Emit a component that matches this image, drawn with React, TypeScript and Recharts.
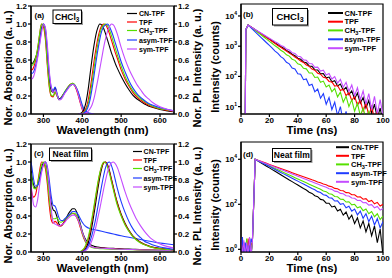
import React from 'react';
import { LineChart, Line, XAxis, YAxis, ReferenceArea, Legend } from 'recharts';

const FONT = '"Liberation Sans", Arial, Helvetica, sans-serif';

const seriesNames = ['CN-TPF', 'TPF', 'CH3-TPF', 'asym-TPF', 'sym-TPF'];
const seriesColors = ['#000000', '#ff0000', '#55e000', '#1f3cff', '#c44cff'];

const wavelengthTicks = [300, 400, 500, 600];
const timeTicks = [0, 20, 40, 60, 80, 100];
const normTicks = [0, 0.2, 0.4, 0.6, 0.8, 1.0, 1.2];
const logTicksB = [10, 100, 1000, 10000];
const logTicksD = [1, 10, 100, 1000, 10000];

// ---------- (a) CHCl3 absorption ----------
const absWlA = [268, 270, 275, 280, 285, 290, 295, 300, 305, 310, 315, 320, 325, 330, 335, 340, 345, 350, 355, 360, 365, 370, 375, 380, 385, 390, 395, 400, 405, 410, 415, 420, 430];
const absA_CN = [0.58, 0.56, 0.58, 0.63, 0.70, 0.82, 0.95, 1.00, 0.92, 0.66, 0.40, 0.26, 0.24, 0.29, 0.22, 0.17, 0.18, 0.21, 0.24, 0.27, 0.30, 0.32, 0.33, 0.32, 0.28, 0.22, 0.14, 0.07, 0.03, 0.012, 0.005, 0.002, 0];
const absA_TPF = [0.50, 0.49, 0.52, 0.60, 0.72, 0.88, 1.00, 0.97, 0.83, 0.54, 0.30, 0.20, 0.19, 0.24, 0.20, 0.16, 0.17, 0.21, 0.24, 0.28, 0.31, 0.33, 0.34, 0.32, 0.27, 0.20, 0.12, 0.05, 0.02, 0.006, 0.002, 0, 0];
const absA_CH3 = [0.55, 0.54, 0.56, 0.62, 0.73, 0.88, 1.00, 0.99, 0.87, 0.57, 0.32, 0.21, 0.20, 0.25, 0.20, 0.16, 0.17, 0.21, 0.25, 0.28, 0.31, 0.33, 0.34, 0.33, 0.29, 0.23, 0.15, 0.08, 0.035, 0.012, 0.004, 0, 0];
const absA_ASYM = [0.47, 0.45, 0.47, 0.54, 0.64, 0.78, 0.93, 1.00, 0.95, 0.72, 0.45, 0.30, 0.26, 0.30, 0.23, 0.16, 0.17, 0.20, 0.24, 0.27, 0.30, 0.32, 0.33, 0.32, 0.29, 0.24, 0.17, 0.10, 0.05, 0.03, 0.015, 0.007, 0];
const absA_SYM = [0.41, 0.39, 0.42, 0.50, 0.62, 0.76, 0.90, 1.00, 0.96, 0.77, 0.48, 0.30, 0.24, 0.27, 0.22, 0.16, 0.16, 0.19, 0.23, 0.26, 0.29, 0.32, 0.33, 0.32, 0.28, 0.21, 0.13, 0.06, 0.025, 0.01, 0.003, 0, 0];

// ---------- PL wavelength grid (a) and (c) ----------
const plWl = [390, 395, 400, 405, 410, 415, 420, 425, 430, 435, 440, 445, 450, 455, 460, 465, 470, 475, 480, 485, 490, 500, 510, 520, 530, 540, 550, 560, 570, 580, 600, 620, 636];
const plA_CN = [0, 0.005, 0.02, 0.06, 0.14, 0.27, 0.44, 0.61, 0.76, 0.88, 0.96, 1.0, 0.99, 0.95, 0.89, 0.82, 0.75, 0.68, 0.62, 0.56, 0.51, 0.42, 0.34, 0.27, 0.21, 0.17, 0.14, 0.11, 0.09, 0.075, 0.05, 0.035, 0.025];
const plA_TPF = [0, 0, 0.01, 0.03, 0.07, 0.15, 0.27, 0.42, 0.58, 0.72, 0.84, 0.93, 0.98, 1.0, 0.99, 0.95, 0.89, 0.82, 0.75, 0.68, 0.62, 0.49, 0.39, 0.31, 0.24, 0.19, 0.155, 0.125, 0.1, 0.08, 0.055, 0.04, 0.03];
const plA_CH3 = [0, 0, 0.008, 0.02, 0.05, 0.11, 0.21, 0.35, 0.5, 0.65, 0.78, 0.89, 0.96, 0.99, 1.0, 0.98, 0.93, 0.87, 0.8, 0.73, 0.66, 0.53, 0.42, 0.33, 0.26, 0.21, 0.17, 0.14, 0.11, 0.09, 0.06, 0.045, 0.033];
const plA_ASYM = [0, 0, 0.005, 0.015, 0.035, 0.08, 0.16, 0.28, 0.42, 0.57, 0.71, 0.83, 0.92, 0.97, 0.99, 1.0, 0.97, 0.92, 0.86, 0.79, 0.72, 0.58, 0.47, 0.37, 0.29, 0.23, 0.185, 0.15, 0.12, 0.1, 0.07, 0.05, 0.035];
const plA_SYM = [0, 0, 0.002, 0.005, 0.012, 0.03, 0.06, 0.1, 0.17, 0.27, 0.38, 0.5, 0.62, 0.74, 0.84, 0.92, 0.97, 1.0, 0.99, 0.95, 0.89, 0.74, 0.61, 0.5, 0.41, 0.33, 0.27, 0.21, 0.17, 0.13, 0.08, 0.05, 0.035];

// ---------- (c) Neat film absorption ----------
const absWlC = [268, 270, 275, 280, 285, 290, 295, 300, 305, 310, 315, 320, 325, 330, 335, 340, 345, 350, 355, 360, 365, 370, 375, 380, 385, 390, 395, 400, 405, 410, 420, 430, 440, 460, 480, 500, 530, 560, 600, 636];
const absC_CN = [0.9, 0.85, 0.74, 0.71, 0.74, 0.82, 0.93, 0.99, 1.0, 0.9, 0.72, 0.55, 0.47, 0.45, 0.39, 0.31, 0.29, 0.31, 0.35, 0.39, 0.43, 0.46, 0.48, 0.48, 0.45, 0.39, 0.31, 0.23, 0.17, 0.13, 0.085, 0.065, 0.055, 0.045, 0.04, 0.035, 0.03, 0.025, 0.02, 0.017];
const absC_TPF = [0.72, 0.66, 0.61, 0.64, 0.76, 0.9, 1.0, 0.99, 0.93, 0.76, 0.52, 0.36, 0.32, 0.34, 0.32, 0.29, 0.29, 0.31, 0.34, 0.37, 0.4, 0.42, 0.43, 0.42, 0.39, 0.34, 0.27, 0.2, 0.14, 0.1, 0.065, 0.05, 0.045, 0.04, 0.035, 0.03, 0.027, 0.023, 0.02, 0.018];
const absC_CH3 = [0.88, 0.82, 0.71, 0.7, 0.76, 0.87, 0.97, 1.0, 0.96, 0.82, 0.6, 0.42, 0.37, 0.37, 0.38, 0.34, 0.33, 0.34, 0.36, 0.38, 0.4, 0.42, 0.43, 0.43, 0.41, 0.36, 0.29, 0.21, 0.15, 0.1, 0.06, 0.045, 0.04, 0.035, 0.03, 0.028, 0.025, 0.02, 0.017, 0.015];
const absC_ASYM = [1.0, 0.95, 0.8, 0.73, 0.74, 0.8, 0.9, 0.97, 1.0, 0.95, 0.8, 0.62, 0.52, 0.51, 0.45, 0.38, 0.35, 0.35, 0.37, 0.39, 0.41, 0.43, 0.45, 0.45, 0.44, 0.41, 0.37, 0.33, 0.3, 0.28, 0.26, 0.25, 0.24, 0.22, 0.2, 0.18, 0.155, 0.13, 0.1, 0.08];
const absC_SYM = [0.78, 0.68, 0.52, 0.5, 0.58, 0.74, 0.88, 0.97, 1.0, 0.93, 0.72, 0.48, 0.33, 0.31, 0.3, 0.29, 0.3, 0.31, 0.33, 0.36, 0.38, 0.4, 0.41, 0.41, 0.39, 0.35, 0.29, 0.22, 0.16, 0.11, 0.07, 0.05, 0.045, 0.04, 0.035, 0.03, 0.027, 0.023, 0.02, 0.018];

// ---------- (c) Neat film PL ----------
const plC_CN = [0, 0, 0.005, 0.02, 0.05, 0.1, 0.18, 0.29, 0.42, 0.56, 0.7, 0.83, 0.93, 0.99, 1.0, 0.97, 0.9, 0.81, 0.72, 0.63, 0.55, 0.42, 0.32, 0.24, 0.18, 0.14, 0.11, 0.085, 0.07, 0.055, 0.04, 0.03, 0.025];
const plC_TPF = [0, 0.003, 0.015, 0.035, 0.075, 0.14, 0.23, 0.35, 0.48, 0.62, 0.75, 0.87, 0.95, 0.99, 1.0, 0.96, 0.89, 0.8, 0.71, 0.62, 0.54, 0.41, 0.31, 0.235, 0.175, 0.135, 0.105, 0.082, 0.066, 0.052, 0.037, 0.029, 0.023];
const plC_CH3 = [0, 0.005, 0.02, 0.045, 0.09, 0.16, 0.26, 0.38, 0.51, 0.64, 0.77, 0.88, 0.96, 1.0, 0.99, 0.94, 0.87, 0.78, 0.69, 0.6, 0.52, 0.4, 0.3, 0.23, 0.17, 0.13, 0.1, 0.08, 0.065, 0.05, 0.035, 0.028, 0.022];
const plC_ASYM = [0, 0, 0.005, 0.015, 0.035, 0.07, 0.12, 0.19, 0.28, 0.38, 0.5, 0.62, 0.74, 0.85, 0.94, 0.99, 1.0, 0.96, 0.89, 0.8, 0.71, 0.56, 0.44, 0.34, 0.26, 0.2, 0.16, 0.12, 0.1, 0.08, 0.055, 0.04, 0.03];
const plC_SYM = [0, 0, 0, 0.008, 0.02, 0.045, 0.08, 0.13, 0.2, 0.28, 0.38, 0.48, 0.59, 0.7, 0.8, 0.89, 0.95, 0.99, 1.0, 0.98, 0.94, 0.81, 0.67, 0.55, 0.45, 0.36, 0.29, 0.23, 0.18, 0.14, 0.09, 0.06, 0.045];

// ---------- (b) CHCl3 decays (counts) ----------
const timeB = [0, 2.9, 3.4, 5, 6, 8, 10, 12, 14, 16, 18, 20, 22, 24, 26, 28, 30, 32, 34, 36, 38, 40, 42, 44, 46, 48, 50, 52, 54, 56, 58, 60, 62, 64, 66, 68, 70, 72, 74, 76, 78, 80, 82, 84, 86, 88, 90, 92, 94, 96, 98, 100];
const decB_CN = [1, 1, 3500, 5000, 4670, 4050, 3510, 3040, 2640, 2290, 1980, 1720, 1490, 1290, 1120, 970, 850, 720, 640, 540, 485, 400, 370, 300, 282, 222, 215, 165, 162, 122, 124, 90, 95, 66, 72, 48, 56, 35, 44, 25, 33, 18, 28, 13, 20, 9, 16, 6, 12, 4, 9, 3];
const decB_TPF = [1, 1, 3500, 5000, 4650, 4000, 3450, 2980, 2580, 2220, 1920, 1660, 1430, 1230, 1060, 920, 790, 690, 590, 515, 440, 385, 325, 290, 240, 215, 175, 160, 128, 118, 93, 88, 68, 66, 48, 50, 34, 38, 23, 29, 16, 22, 11, 17, 7, 13, 5, 10, 4, 7, 3, 5];
const decB_CH3 = [1, 1, 3500, 5000, 4610, 3910, 3310, 2810, 2380, 2010, 1710, 1450, 1230, 1030, 890, 735, 645, 520, 470, 370, 340, 262, 245, 185, 178, 130, 130, 92, 95, 64, 70, 45, 52, 31, 40, 21, 30, 14, 22, 10, 17, 7, 13, 5, 9, 4, 7, 3, 5, 2, 4, 2];
const decB_ASYM = [1, 1, 3500, 5000, 4520, 3670, 2990, 2430, 1970, 1600, 1300, 1060, 870, 690, 580, 450, 388, 292, 260, 190, 175, 122, 118, 78, 82, 50, 55, 31, 38, 19, 27, 12, 20, 8, 14, 5, 10, 3, 7, 2, 5, 1, 3, 1, 1, 1, 1, 1, 1, 1, 1, 1];
const decB_SYM = [1, 1, 3500, 5000, 4690, 4100, 3590, 3140, 2750, 2400, 2100, 1840, 1620, 1400, 1250, 1060, 970, 800, 750, 610, 575, 462, 445, 352, 342, 266, 262, 200, 203, 150, 160, 112, 125, 82, 99, 60, 80, 44, 64, 32, 52, 23, 42, 17, 33, 12, 27, 8, 22, 6, 17, 5];

// ---------- (d) Neat film decays (counts) ----------
const timeD = [0, 1, 2, 3, 4, 5, 6, 7, 8, 9, 10, 12, 14, 16, 18, 20, 22, 24, 26, 28, 30, 32, 34, 36, 38, 40, 42, 44, 46, 48, 50, 52, 54, 56, 58, 60, 62, 64, 66, 68, 70, 72, 74, 76, 78, 80, 82, 84, 86, 88, 90, 92, 94, 96, 98, 100];
const decD_CN = [1, 0.5, 2, 0.5, 1.5, 0.5, 2.5, 0.5, 2, 141, 10000, 8390, 7030, 5900, 4950, 4150, 3480, 2920, 2450, 2050, 1720, 1450, 1210, 1020, 851, 714, 600, 502, 430, 345, 305, 240, 218, 165, 155, 112, 112, 76, 82, 50, 60, 33, 45, 22, 33, 14, 25, 9, 18, 6, 14, 4, 11, 2, 8, 0.5];
const decD_TPF = [0.5, 2.5, 0.5, 1, 0.5, 3, 0.5, 1.5, 2, 141, 10000, 9000, 8110, 7300, 6580, 5920, 5330, 4800, 4320, 3890, 3500, 3150, 2840, 2550, 2300, 2070, 1860, 1680, 1510, 1360, 1220, 1110, 980, 900, 790, 740, 640, 600, 510, 490, 410, 400, 330, 325, 265, 265, 210, 215, 168, 178, 132, 148, 105, 122, 84, 100];
const decD_CH3 = [2, 0.5, 1, 0.5, 3, 0.5, 1, 0.5, 2, 141, 10000, 8750, 7650, 6690, 5850, 5120, 4480, 3920, 3420, 2990, 2620, 2290, 2000, 1750, 1530, 1340, 1170, 1030, 896, 784, 685, 600, 525, 470, 390, 365, 295, 280, 222, 215, 168, 165, 126, 130, 94, 100, 70, 78, 52, 62, 38, 48, 28, 38, 21, 30];
const decD_ASYM = [0.5, 3.5, 0.5, 2, 0.5, 1.5, 0.5, 3, 2, 141, 10000, 8610, 7420, 6390, 5510, 4740, 4090, 3520, 3030, 2610, 2250, 1940, 1670, 1440, 1240, 1070, 919, 791, 682, 587, 506, 445, 365, 335, 268, 250, 195, 188, 140, 142, 100, 108, 70, 82, 50, 62, 34, 50, 24, 38, 17, 30, 12, 23, 9, 17];
const decD_SYM = [3, 0.5, 2.5, 0.5, 2, 0.5, 3.5, 0.5, 2, 141, 10000, 8910, 7940, 7080, 6310, 5620, 5010, 4470, 3980, 3550, 3160, 2820, 2510, 2240, 2000, 1780, 1580, 1410, 1260, 1120, 1000, 891, 794, 708, 631, 570, 490, 460, 385, 365, 305, 292, 240, 232, 190, 186, 148, 150, 118, 120, 92, 97, 70, 80, 55, 65];

type Pt = { x: number; y: number };
const toPoints = (xs: number[], ys: number[]): Pt[] => xs.map((x, i) => ({ x, y: ys[i] }));

const tickStyle = { fill: '#000', fontSize: 8, fontWeight: 700, fontFamily: FONT };
const axisStroke = { stroke: '#000', strokeWidth: 1.2 };

const XTitle = (props: any) => (
  <text x={props.tx} y={props.ty} textAnchor="middle" fontFamily={FONT} fontWeight={700} fontSize={11.5} fill="#000">
    {props.text}
  </text>
);

const YTitle = (props: any) => (
  <text
    x={props.cx}
    y={props.cy}
    transform={`rotate(-90 ${props.cx} ${props.cy})`}
    textAnchor="middle"
    dominantBaseline="central"
    fontFamily={FONT}
    fontWeight={700}
    fontSize={11}
    fill="#000"
  >
    {props.text}
  </text>
);

const LogTick = (props: any) => {
  const { x, y, payload } = props;
  const exp = Math.round(Math.log10(payload.value));
  return (
    <text x={x} y={y + 3} textAnchor="end" fontFamily={FONT} fontWeight={700} fontSize={8} fill="#000">
      10<tspan dy={-4} fontSize={5}>{exp}</tspan>
    </text>
  );
};

const renderName = (n: string) => {
  if (n === 'CH3-TPF') {
    return (
      <>
        CH<tspan dy={2} fontSize="75%">3</tspan><tspan dy={-2}>-TPF</tspan>
      </>
    );
  }
  return n;
};

type LegendCfg = { left: number; top: number; lineLen: number; gap: number; rows: number[]; fontSize: number; sw: number };

const makeLegend = (cfg: LegendCfg) => () => (
  <svg width={60} height={60} style={{ overflow: 'visible', display: 'block' }}>
    {seriesNames.map((n, i) => (
      <g key={n}>
        <line x1={0} x2={cfg.lineLen} y1={cfg.rows[i]} y2={cfg.rows[i]} stroke={seriesColors[i]} strokeWidth={cfg.sw} />
        <text x={cfg.lineLen + cfg.gap} y={cfg.rows[i] + cfg.fontSize * 0.36} fontFamily={FONT} fontWeight={700} fontSize={cfg.fontSize} fill="#000">
          {renderName(n)}
        </text>
      </g>
    ))}
  </svg>
);

const absSetsA = [absA_CN, absA_TPF, absA_CH3, absA_ASYM, absA_SYM];
const plSetsA = [plA_CN, plA_TPF, plA_CH3, plA_ASYM, plA_SYM];
const absSetsC = [absC_CN, absC_TPF, absC_CH3, absC_ASYM, absC_SYM];
const plSetsC = [plC_CN, plC_TPF, plC_CH3, plC_ASYM, plC_SYM];
const decSetsB = [decB_CN, decB_TPF, decB_CH3, decB_ASYM, decB_SYM];
const decSetsD = [decD_CN, decD_TPF, decD_CH3, decD_ASYM, decD_SYM];

const WL_DOMAIN: [number, number] = [268, 636];

function SpectraPanel(props: {
  left: number; top: number; absWl: number[]; absSets: number[][]; plSets: number[][]; legend: LegendCfg;
}) {
  const { left, top, absWl, absSets, plSets, legend } = props;
  return (
    <div style={{ position: 'absolute', left, top }}>
      <LineChart width={206} height={138} margin={{ top: 6, right: 0, bottom: 0, left: 0 }}>
        <XAxis
          dataKey="x" type="number" domain={WL_DOMAIN} ticks={wavelengthTicks} allowDataOverflow height={24}
          tick={tickStyle} tickSize={3} tickMargin={0} axisLine={axisStroke} tickLine={axisStroke}
          label={<XTitle tx={102.5} ty={134} text="Wavelength (nm)" />}
        />
        <YAxis
          yAxisId="abs" type="number" domain={[0, 1.2]} ticks={normTicks} width={31} allowDataOverflow
          tick={tickStyle} tickSize={3} tickMargin={1} axisLine={axisStroke} tickLine={axisStroke}
          tickFormatter={(v: number) => v.toFixed(1)}
          label={<YTitle cx={8} cy={68} text="Nor. Absorption (a. u.)" />}
        />
        <YAxis
          yAxisId="pl" orientation="right" type="number" domain={[0, 1.2]} ticks={normTicks} width={32} allowDataOverflow
          tick={tickStyle} tickSize={3} tickMargin={1} axisLine={axisStroke} tickLine={axisStroke}
          tickFormatter={(v: number) => v.toFixed(1)}
          label={<YTitle cx={197} cy={68} text="Nor. PL Intensity (a. u.)" />}
        />
        <ReferenceArea yAxisId="abs" x1={WL_DOMAIN[0]} x2={WL_DOMAIN[1]} y1={0} y2={1.2} fill="none" fillOpacity={0} stroke="#000" strokeWidth={1.2} />
        {absSets.map((ys, i) => (
          <Line key={'abs' + i} name={seriesNames[i]} yAxisId="abs" data={toPoints(absWl, ys)} dataKey="y" type="monotone"
            stroke={seriesColors[i]} strokeWidth={1.1} dot={false} isAnimationActive={false} />
        ))}
        {plSets.map((ys, i) => (
          <Line key={'pl' + i} name={seriesNames[i] + ' PL'} yAxisId="pl" data={toPoints(plWl, ys)} dataKey="y" type="monotone"
            stroke={seriesColors[i]} strokeWidth={1.1} dot={false} isAnimationActive={false} />
        ))}
        <Legend layout="vertical" align="center" verticalAlign="middle"
          wrapperStyle={{ left: legend.left, top: legend.top, width: 60, height: 60, right: 'auto', bottom: 'auto' }}
          content={makeLegend(legend)} />
      </LineChart>
    </div>
  );
}

function DecayPanel(props: {
  left: number; top: number; time: number[]; sets: number[][]; yDomain: [number, number]; ticks: number[];
  titleY: number; legend: LegendCfg;
}) {
  const { left, top, time, sets, yDomain, ticks, titleY, legend } = props;
  return (
    <div style={{ position: 'absolute', left, top }}>
      <LineChart width={186} height={138} margin={{ top: 4, right: 9, bottom: 0, left: 0 }}>
        <XAxis
          dataKey="x" type="number" domain={[0, 100]} ticks={timeTicks} height={24} allowDataOverflow
          tick={tickStyle} tickSize={3} tickMargin={0} axisLine={axisStroke} tickLine={axisStroke}
          label={<XTitle tx={106} ty={titleY} text="Time (ns)" />}
        />
        <YAxis
          type="number" scale="log" domain={yDomain} ticks={ticks} allowDataOverflow width={35}
          tick={<LogTick />} tickSize={3} tickMargin={1} axisLine={axisStroke} tickLine={axisStroke}
          label={<YTitle cx={9} cy={67} text="Intensity (counts)" />}
        />
        <ReferenceArea x1={0} x2={100} y1={yDomain[0]} y2={yDomain[1]} fill="none" fillOpacity={0} stroke="#000" strokeWidth={1.2} />
        {sets.map((ys, i) => (
          <Line key={'d' + i} name={seriesNames[i]} data={toPoints(time, ys)} dataKey="y" type="linear"
            stroke={seriesColors[i]} strokeWidth={1.1} dot={false} isAnimationActive={false} />
        ))}
        <Legend layout="vertical" align="center" verticalAlign="middle"
          wrapperStyle={{ left: legend.left, top: legend.top, width: 60, height: 60, right: 'auto', bottom: 'auto' }}
          content={makeLegend(legend)} />
      </LineChart>
    </div>
  );
}

const Tag = ({ x, y, text }: { x: number; y: number; text: string }) => (
  <text x={x} y={y} fontFamily={FONT} fontWeight={700} fontSize={8} fill="#000">{text}</text>
);

const BoxLabel = ({ x, y, w, h, fs, children }: { x: number; y: number; w: number; h: number; fs: number; children: React.ReactNode }) => (
  <g>
    <rect x={x + 1.5} y={y + 1.5} width={w} height={h} fill="#9a9a9a" />
    <rect x={x} y={y} width={w} height={h} fill="#fff" stroke="#000" strokeWidth={1} />
    <text x={x + w / 2} y={y + h / 2 + fs * 0.36} textAnchor="middle" fontFamily={FONT} fontWeight={700} fontSize={fs} fill="#000">
      {children}
    </text>
  </g>
);

const chcl3 = (
  <>
    CHCl<tspan dy={2} fontSize="75%">3</tspan>
  </>
);

export default function App() {
  return (
    <div style={{ position: 'absolute', left: 0, top: 0, width: 392, height: 278, background: '#fff', overflow: 'hidden' }}>
      <SpectraPanel left={0} top={0} absWl={absWlA} absSets={absSetsA} plSets={plSetsA}
        legend={{ left: 127, top: 0, lineLen: 10, gap: 2, rows: [13.5, 22, 30.5, 40, 49], fontSize: 7, sw: 1.2 }} />
      <DecayPanel left={206} top={0} time={timeB} sets={decSetsB} yDomain={[5.7, 24900]} ticks={logTicksB} titleY={134}
        legend={{ left: 122, top: 0, lineLen: 15, gap: 1.5, rows: [13, 21.7, 30.4, 39.3, 48.2], fontSize: 7.5, sw: 2 }} />
      <SpectraPanel left={0} top={138} absWl={absWlC} absSets={absSetsC} plSets={plSetsC}
        legend={{ left: 132.7, top: 0, lineLen: 9, gap: 1.6, rows: [13.5, 22, 30.5, 40, 49], fontSize: 7, sw: 1.2 }} />
      <DecayPanel left={206} top={138} time={timeD} sets={decSetsD} yDomain={[0.76, 58600]} ticks={logTicksD} titleY={134}
        legend={{ left: 130, top: 0, lineLen: 13, gap: 2, rows: [9.2, 17.8, 26.4, 35.2, 43.8], fontSize: 7.5, sw: 2 }} />
      <svg width={392} height={278} style={{ position: 'absolute', left: 0, top: 0, pointerEvents: 'none' }}>
        <Tag x={34.5} y={18} text="(a)" />
        <BoxLabel x={53} y={10} w={28.5} h={13.5} fs={8.5}>{chcl3}</BoxLabel>
        <Tag x={243} y={17} text="(b)" />
        <BoxLabel x={272.5} y={8.5} w={35} h={16.5} fs={9.5}>{chcl3}</BoxLabel>
        <Tag x={34} y={156} text="(c)" />
        <BoxLabel x={49.5} y={148} w={42} h={12.5} fs={8.5}>Neat film</BoxLabel>
        <Tag x={243} y={157} text="(d)" />
        <BoxLabel x={272.5} y={148.5} w={38.5} h={13} fs={8.5}>Neat film</BoxLabel>
      </svg>
    </div>
  );
}
